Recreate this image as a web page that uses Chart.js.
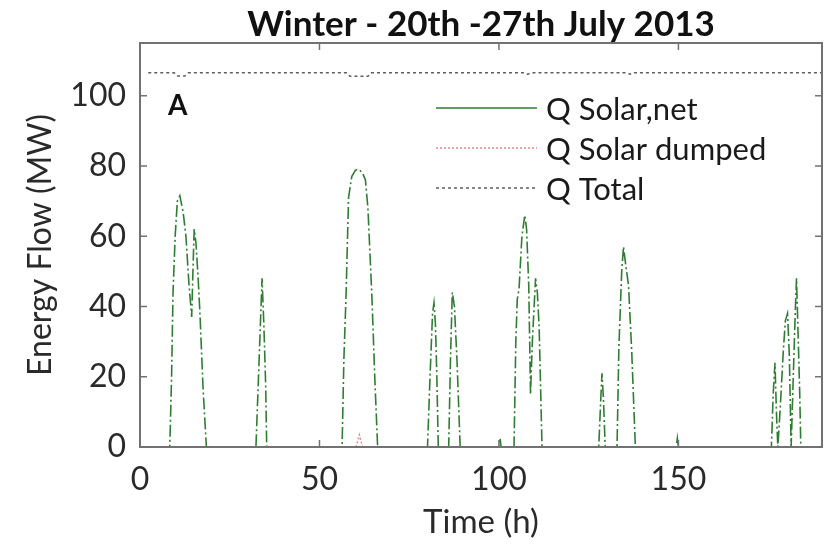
<!DOCTYPE html>
<html>
<head>
<meta charset="utf-8">
<script src="https://cdn.jsdelivr.net/npm/chart.js@4/dist/chart.umd.min.js"></script>
<style>
  html, body { margin: 0; padding: 0; background: #fff; }
  #wrap { width: 829px; height: 545px; }
</style>
</head>
<body>
<div id="wrap"><canvas id="energyChart" width="829" height="545"></canvas></div>
<script>
// values (time in hours, flow in MW)
const netTime = [0, 8.3, 8.8, 9.2, 9.8, 10.4, 11.1, 12.0, 12.8, 13.6, 14.4, 14.8, 15.1, 15.6, 16.2, 16.7, 17.6, 18.5,
  32.3, 33.3, 34.0, 34.5, 35.0, 35.3,
  56.3, 56.8, 57.4, 58.1, 59.0, 60.0, 61.0, 62.0, 62.8, 63.5, 64.6, 65.4, 66.2,
  80.1, 80.8, 81.5, 81.9, 82.3, 82.7, 83.1,
  86.0, 86.5, 87.0, 87.6, 88.3, 89.2,
  100.0, 100.3, 100.6,
  104.2, 104.7, 105.1, 105.6, 106.4, 107.2, 107.7, 108.3, 108.8, 109.3, 110.2, 110.7, 111.2, 112.0,
  127.8, 128.3, 128.7, 129.1, 129.6,
  132.9, 133.4, 134.2, 134.7, 135.3, 136.1, 137.0, 138.0,
  149.4, 149.7, 150.0,
  175.9, 176.4, 176.9, 177.3, 177.7, 178.3, 179.2, 179.8, 180.4, 180.9, 181.4, 182.0, 182.6, 182.9, 183.4, 183.8, 184.1,
  190];
const netValue = [0, 0, 20, 44, 60, 70, 71.5, 67, 60, 47, 37, 52, 62, 58, 48, 38, 16, 0,
  0, 28, 48, 35, 18, 0,
  0, 25, 43, 71, 77, 78.8, 79, 78, 76, 68, 43, 20, 0,
  0, 20, 38, 41, 35, 20, 0,
  0, 25, 44, 40, 25, 0,
  0, 2.5, 0,
  0, 30, 42, 45, 60, 66, 62, 46, 15, 30, 48, 44, 34, 0,
  0, 12, 21, 14, 0,
  0, 28, 50, 57, 52, 46, 27, 0,
  0, 2.5, 0,
  0, 15, 24, 10, 0, 10, 27, 36, 38, 26, 0, 20, 40, 48, 30, 15, 0,
  0];

const dumpedTime = [0, 60.2, 61.1, 62.0, 190];
const dumpedValue = [0, 0, 3.5, 0, 0];

const totalTime = [2.3, 9.5, 10.5, 12.5, 13.5, 57.5, 58.5, 63.5, 64.5, 107, 108, 109, 135.5, 136.5, 137.5, 190];
const totalValue = [106.5, 106.5, 105.6, 105.6, 106.5, 106.5, 105.5, 105.5, 106.5, 106.5, 106.1, 106.5, 106.5, 106.1, 106.5, 106.5];

const seriesNames = ['Q Solar,net', 'Q Solar dumped', 'Q Total'];
const xTicks = [0, 50, 100, 150];
const yTicks = [0, 20, 40, 60, 80, 100];

function toPoints(times, values) {
  return times.map((t, i) => ({ x: t, y: values[i] }));
}

// box round the plot with small inward ticks, like the original figure
const framePlugin = {
  id: 'frame',
  afterDatasetsDraw(chart) {
    const { ctx, chartArea: a, scales } = chart;
    ctx.save();
    ctx.strokeStyle = '#727272';
    ctx.lineWidth = 2;
    ctx.strokeRect(a.left, a.top, a.right - a.left, a.bottom - a.top);
    ctx.lineWidth = 1.5;
    ctx.beginPath();
    xTicks.forEach((v) => {
      const px = scales.x.getPixelForValue(v);
      ctx.moveTo(px, a.bottom); ctx.lineTo(px, a.bottom - 7);
      ctx.moveTo(px, a.top); ctx.lineTo(px, a.top + 7);
    });
    yTicks.forEach((v) => {
      const py = scales.y.getPixelForValue(v);
      ctx.moveTo(a.left, py); ctx.lineTo(a.left + 7, py);
      ctx.moveTo(a.right, py); ctx.lineTo(a.right - 7, py);
    });
    ctx.stroke();
    ctx.restore();
  },
};

// legend sits inside the plot, top right, plus the panel letter
const insideLegend = {
  id: 'insideLegend',
  afterDraw(chart) {
    const { ctx, chartArea: a } = chart;
    ctx.save();
    ctx.fillStyle = '#111';
    ctx.font = 'bold 28px Lato';
    ctx.textBaseline = 'middle';
    ctx.textAlign = 'left';
    ctx.fillText('A', a.left + 28, 106);

    const rows = [108, 148, 188];
    const dashes = [[], [2, 2], [3, 3]];
    chart.data.datasets.forEach((ds, i) => {
      ctx.strokeStyle = ds.borderColor;
      ctx.lineWidth = 1.5;
      ctx.setLineDash(dashes[i]);
      ctx.beginPath();
      ctx.moveTo(436, rows[i]);
      ctx.lineTo(537, rows[i]);
      ctx.stroke();
      ctx.setLineDash([]);
      ctx.fillStyle = '#1a1a1a';
      ctx.font = '31px Lato';
      ctx.fillText(ds.label, 546, rows[i] + 2);
    });
    ctx.restore();
  },
};

const ctx = document.getElementById('energyChart');
new Chart(ctx, {
  type: 'line',
  data: {
    datasets: [
      {
        label: seriesNames[0],
        data: toPoints(netTime, netValue),
        borderColor: '#2f7d32',
        borderWidth: 1.6,
        borderDash: [12, 3, 2, 3],
        pointRadius: 0,
      },
      {
        label: seriesNames[1],
        data: toPoints(dumpedTime, dumpedValue),
        borderColor: '#e58a8a',
        borderWidth: 1.4,
        borderDash: [2, 2],
        pointRadius: 0,
      },
      {
        label: seriesNames[2],
        data: toPoints(totalTime, totalValue),
        borderColor: '#5e5e5e',
        borderWidth: 1.5,
        borderDash: [3, 3],
        pointRadius: 0,
      },
    ],
  },
  options: {
    responsive: false,
    animation: false,
    layout: { padding: { left: 0, right: 7, top: 0, bottom: 0 } },
    plugins: {
      legend: { display: false },
      tooltip: { enabled: false },
      title: {
        display: true,
        fullSize: false,
        text: 'Winter - 20th -27th July 2013',
        color: '#111',
        font: { family: 'Lato', size: 35, weight: 'bold', lineHeight: 1 },
        padding: { top: 7.5, bottom: 0.5 },
      },
    },
    scales: {
      x: {
        type: 'linear',
        min: 0,
        max: 190,
        grid: { display: false, drawTicks: false },
        border: { display: false },
        afterFit(scale) { scale.height = 98; },
        afterBuildTicks(scale) { scale.ticks = xTicks.map((v) => ({ value: v })); },
        ticks: {
          color: '#2a2a2a',
          font: { family: 'Lato', size: 32 },
          padding: 13,
          maxRotation: 0,
        },
        title: {
          display: true,
          text: 'Time (h)',
          color: '#2a2a2a',
          font: { family: 'Lato', size: 33 },
          padding: { top: 0, bottom: 3 },
        },
      },
      y: {
        min: 0,
        max: 115,
        grid: { display: false, drawTicks: false },
        border: { display: false },
        afterFit(scale) { scale.width = 140; },
        afterBuildTicks(scale) { scale.ticks = yTicks.map((v) => ({ value: v })); },
        ticks: {
          color: '#2a2a2a',
          font: { family: 'Lato', size: 32 },
          padding: 14,
        },
        title: {
          display: true,
          text: 'Energy Flow (MW)',
          color: '#2a2a2a',
          font: { family: 'Lato', size: 32 },
          padding: { top: 21, bottom: 0 },
        },
      },
    },
  },
  plugins: [framePlugin, insideLegend],
});
</script>
</body>
</html>
